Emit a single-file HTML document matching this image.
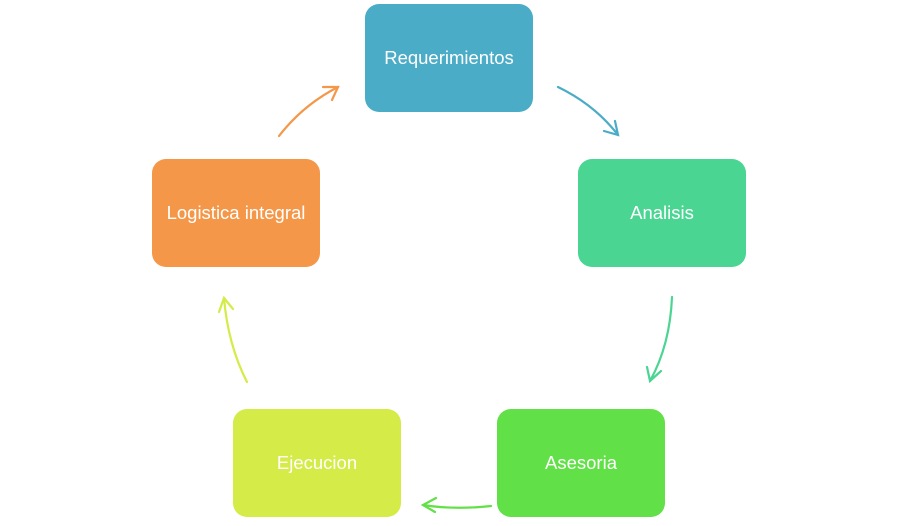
<!DOCTYPE html>
<html><head><style>
body{margin:0;background:#fff;width:899px;height:526px;overflow:hidden;font-family:"Liberation Sans",sans-serif}
.b{position:absolute;width:168px;height:108px;border-radius:14px;color:#fff;font-size:18.5px;display:flex;align-items:center;justify-content:center}
</style></head><body>
<div class="b" style="left:365px;top:4px;background:#4aacc6">Requerimientos</div>
<div class="b" style="left:578px;top:159px;background:#4ad592">Analisis</div>
<div class="b" style="left:497px;top:409px;background:#62e047">Asesoria</div>
<div class="b" style="left:233px;top:409px;background:#d5eb48">Ejecucion</div>
<div class="b" style="left:152px;top:159px;background:#f59748">Logistica integral</div>
<svg width="899" height="526" style="position:absolute;left:0;top:0" fill="none" stroke-width="2.2" stroke-linecap="round">
<g stroke="#4aacc6"><path d="M558 87 Q595 105 618 135"/><path d="M604 131 L618 135 L615 121"/></g>
<g stroke="#4ad592"><path d="M672 297 Q670 345 650 381"/><path d="M647 367 L650 381 L661 371"/></g>
<g stroke="#62e047"><path d="M491 506 Q455 510 423 505"/><path d="M436 498 L423 505 L435 512"/></g>
<g stroke="#d5eb48"><path d="M247 382 Q228 345 224 298"/><path d="M219 312 L224 298 L233 309"/></g>
<g stroke="#f59748"><path d="M279 136 Q303 105 338 87"/><path d="M323 87 L338 87 L332 100"/></g>
</svg>
</body></html>
